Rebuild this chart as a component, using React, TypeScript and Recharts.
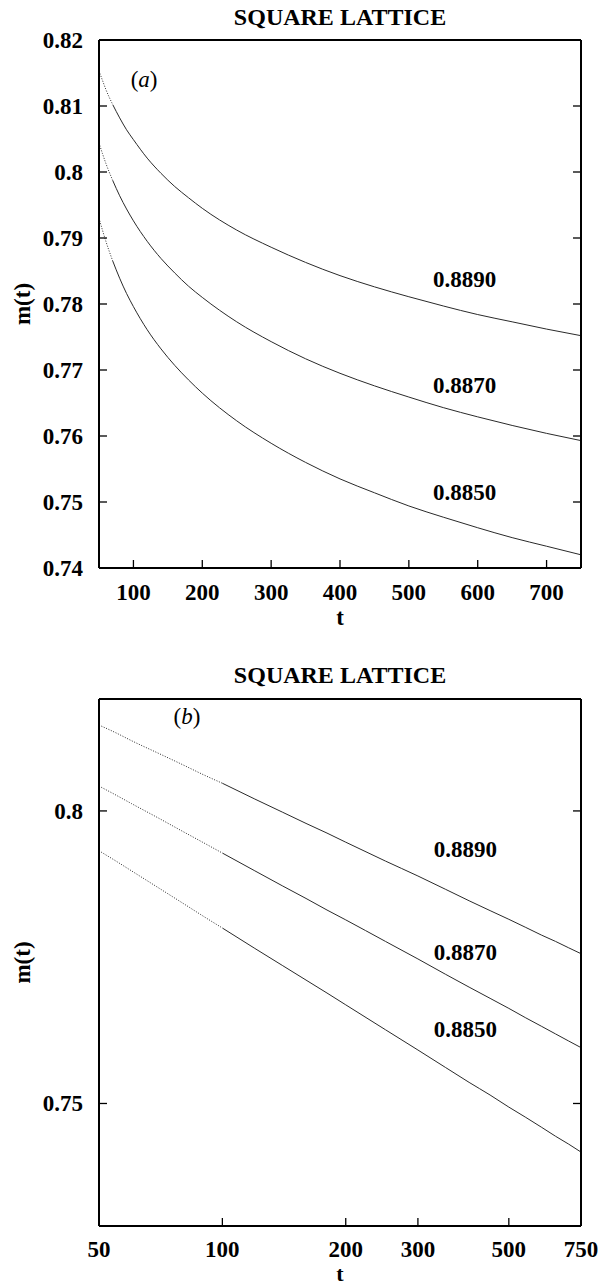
import React from "react"
import { LineChart, Line, XAxis, YAxis, ReferenceDot, Label } from "recharts"

// time steps (t) and magnetisation m(t) for three temperatures
const T = [50, 55, 60, 70, 80, 90, 100, 120, 140, 160, 180, 200, 250, 300, 350, 400, 450, 500, 550, 600, 650, 700, 750]
const M_8890 = [0.8153, 0.8139, 0.8125, 0.8102, 0.8082, 0.8064, 0.8049, 0.8021, 0.7998, 0.7978, 0.7961, 0.7945, 0.7912, 0.7886, 0.7863, 0.7843, 0.7826, 0.7811, 0.7797, 0.7784, 0.7773, 0.7762, 0.7752]
const M_8870 = [0.8044, 0.8028, 0.8013, 0.7987, 0.7964, 0.7944, 0.7926, 0.7895, 0.7869, 0.7847, 0.7827, 0.781, 0.7773, 0.7743, 0.7717, 0.7695, 0.7676, 0.7659, 0.7643, 0.7629, 0.7616, 0.7604, 0.7593]
const M_8850 = [0.793, 0.7912, 0.7895, 0.7865, 0.7839, 0.7816, 0.7796, 0.7761, 0.7732, 0.7707, 0.7685, 0.7665, 0.7623, 0.7589, 0.756, 0.7535, 0.7514, 0.7494, 0.7477, 0.7461, 0.7446, 0.7433, 0.742]

const SERIES = [
  { key: "s8890", label: "0.8890", values: M_8890 },
  { key: "s8870", label: "0.8870", values: M_8870 },
  { key: "s8850", label: "0.8850", values: M_8850 },
]

const LIN_X_TICKS = [100, 200, 300, 400, 500, 600, 700]
const LIN_Y_TICKS = [0.74, 0.75, 0.76, 0.77, 0.78, 0.79, 0.8, 0.81, 0.82]
const LOG_X_TICKS = [50, 100, 200, 300, 500, 750]
const LOG_X_TOP_TICKS = [100, 200, 300, 500]
const LOG_Y_TICKS = [0.75, 0.8]

const FONT = "'Liberation Serif', 'Times New Roman', serif"
const INK = "#000"
const CURVE = "#2a2a2a"

// rows with an early (dotted) part and the rest (solid)
function buildRows(cut: number) {
  return T.map((t, i) => {
    const row: any = { t }
    SERIES.forEach((s) => {
      const v = s.values[i]
      row[s.key + "Dot"] = t <= cut ? v : null
      row[s.key] = t >= cut ? v : null
    })
    return row
  })
}

const tickText = { fontFamily: FONT, fontWeight: 700, fontSize: 23, fill: INK }

const BottomTick = ({ x, y, payload, labelOffset }: any) => (
  <g>
    <line x1={x} x2={x} y1={y} y2={y - 8} stroke={INK} strokeWidth={1.3} />
    <text x={x} y={y + labelOffset} textAnchor="middle" {...tickText}>
      {payload.value}
    </text>
  </g>
)

const TopTick = ({ x, y }: any) => <line x1={x} x2={x} y1={y} y2={y + 8} stroke={INK} strokeWidth={1.3} />

const LeftTick = ({ x, y, payload }: any) => (
  <g>
    <line x1={x} x2={x + 8} y1={y} y2={y} stroke={INK} strokeWidth={1.3} />
    <text x={x - 16} y={y + 8} textAnchor="end" {...tickText}>
      {String(payload.value)}
    </text>
  </g>
)

const RightTick = ({ x, y }: any) => <line x1={x} x2={x - 8} y1={y} y2={y} stroke={INK} strokeWidth={1.3} />

const textShape = (text: string) => (p: any) => (
  <text x={p.cx} y={p.cy} {...tickText}>
    {text}
  </text>
)

const panelShape = (letter: string) => (p: any) => (
  <text x={p.cx} y={p.cy} fontFamily={FONT} fontSize={23} fill={INK}>
    (<tspan fontStyle="italic">{letter}</tspan>)
  </text>
)

function Panel({
  log,
  height,
  margin,
  titleDy,
  tDy,
  tSize,
  tickOffset,
  cut,
  panel,
  labels,
}: {
  log: boolean
  height: number
  margin: { top: number; right: number; bottom: number; left: number }
  titleDy: number
  tDy: number
  tSize: number
  tickOffset: number
  cut: number
  panel: { letter: string; x: number; y: number }
  labels: { x: number; y: number }[]
}) {
  const rows = buildRows(cut)
  const xDomain = [50, 750]
  const yDomain = log ? [0.73, 0.82] : [0.74, 0.82]
  const xTicks = log ? LOG_X_TICKS : LIN_X_TICKS
  const xTopTicks = log ? LOG_X_TOP_TICKS : LIN_X_TICKS
  const yTicks = log ? LOG_Y_TICKS : LIN_Y_TICKS
  const scale = log ? "log" : "linear"
  const axisLine = { stroke: INK, strokeWidth: 2 }

  return (
    <LineChart width={600} height={height} data={rows} margin={margin}>
      <XAxis
        dataKey="t"
        type="number"
        scale={scale}
        domain={xDomain}
        ticks={xTicks}
        allowDataOverflow
        height={1}
        tickSize={0}
        tickMargin={0}
        tickLine={false}
        axisLine={axisLine}
        interval={0}
        tick={<BottomTick labelOffset={tickOffset} />}
      >
        <Label
          content={({ viewBox }: any) => (
            <text x={viewBox.x + viewBox.width / 2} y={viewBox.y + tDy} textAnchor="middle" {...tickText} fontSize={tSize}>
              t
            </text>
          )}
        />
      </XAxis>
      <XAxis
        xAxisId="top"
        orientation="top"
        type="number"
        scale={scale}
        domain={xDomain}
        ticks={xTopTicks}
        allowDataOverflow
        height={1}
        tickSize={0}
        tickMargin={0}
        tickLine={false}
        axisLine={axisLine}
        interval={0}
        tick={<TopTick />}
      >
        <Label
          content={({ viewBox }: any) => (
            <text x={viewBox.x + viewBox.width / 2} y={viewBox.y + viewBox.height + titleDy} textAnchor="middle" {...tickText} fontSize={24}>
              SQUARE LATTICE
            </text>
          )}
        />
      </XAxis>
      <YAxis
        type="number"
        scale={scale}
        domain={yDomain}
        ticks={yTicks}
        allowDataOverflow
        width={1}
        tickSize={0}
        tickMargin={0}
        tickLine={false}
        axisLine={axisLine}
        interval={0}
        tick={<LeftTick />}
      >
        <Label
          content={({ viewBox }: any) => {
            const cy = viewBox.y + viewBox.height / 2
            return (
              <text x={30} y={cy} transform={`rotate(-90, 30, ${cy})`} textAnchor="middle" {...tickText}>
                m(t)
              </text>
            )
          }}
        />
      </YAxis>
      <YAxis
        yAxisId="right"
        orientation="right"
        type="number"
        scale={scale}
        domain={yDomain}
        ticks={yTicks}
        allowDataOverflow
        width={1}
        tickSize={0}
        tickMargin={0}
        tickLine={false}
        axisLine={axisLine}
        interval={0}
        tick={<RightTick />}
      />
      {SERIES.map((s) => (
        <Line
          key={s.key + "Dot"}
          type="monotone"
          dataKey={s.key + "Dot"}
          stroke={CURVE}
          strokeWidth={1}
          strokeDasharray="1 1.6"
          dot={false}
          activeDot={false}
          isAnimationActive={false}
        />
      ))}
      {SERIES.map((s) => (
        <Line
          key={s.key}
          type="monotone"
          dataKey={s.key}
          stroke={CURVE}
          strokeWidth={1}
          dot={false}
          activeDot={false}
          isAnimationActive={false}
        />
      ))}
      <ReferenceDot x={panel.x} y={panel.y} r={0} ifOverflow="visible" shape={panelShape(panel.letter)} />
      {SERIES.map((s, i) => (
        <ReferenceDot
          key={"lbl" + s.key}
          x={labels[i].x}
          y={labels[i].y}
          r={0}
          ifOverflow="visible"
          shape={textShape(s.label)}
        />
      ))}
    </LineChart>
  )
}

export default function App() {
  return (
    <div style={{ position: "absolute", left: 0, top: 0, width: 600, height: 1285, background: "#fff" }}>
      <Panel
        log={false}
        height={640}
        margin={{ top: 39, right: 18, bottom: 71, left: 98 }}
        titleDy={-15}
        tDy={57}
        tSize={23}
        tickOffset={32}
        cut={70}
        panel={{ letter: "a", x: 96, y: 0.8129 }}
        labels={[
          { x: 535, y: 0.7826 },
          { x: 535, y: 0.7665 },
          { x: 535, y: 0.7503 },
        ]}
      />
      <Panel
        log={true}
        height={645}
        margin={{ top: 58, right: 18, bottom: 58, left: 98 }}
        titleDy={-16}
        tDy={55}
        tSize={22}
        tickOffset={31}
        cut={100}
        panel={{ letter: "b", x: 76, y: 0.8155 }}
        labels={[
          { x: 328, y: 0.7919 },
          { x: 328, y: 0.7742 },
          { x: 328, y: 0.761 },
        ]}
      />
    </div>
  )
}
